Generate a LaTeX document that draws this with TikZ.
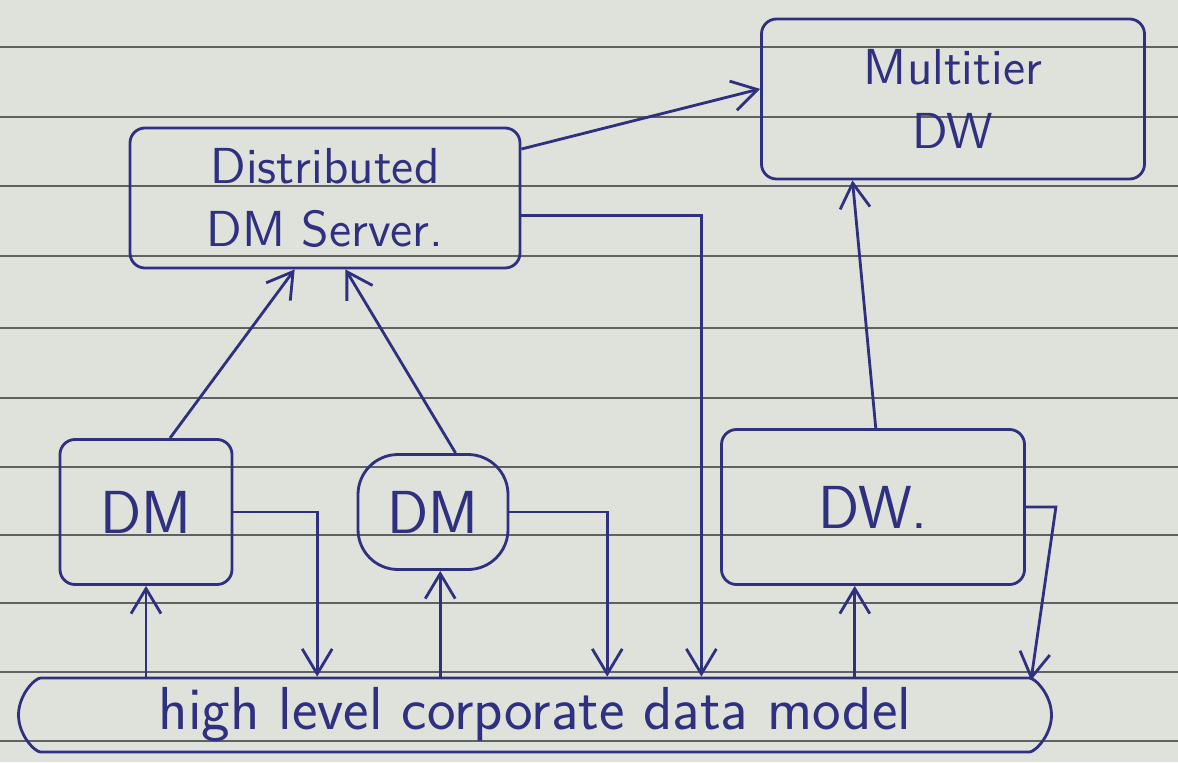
\documentclass[tikz,border=0pt]{standalone}
\usepackage{tikz}
\usetikzlibrary{arrows.meta}
\usetikzlibrary{shapes.misc}
\usepackage{xcolor}
\definecolor{ink}{RGB}{48,48,128}
\definecolor{paper}{RGB}{222,226,219}
\definecolor{ruling}{RGB}{95,98,95}

\begin{document}
\begin{tikzpicture}[box/.style={shape=rectangle,
        rounded corners=1.5mm,
        draw=ink,
        thick,
        text=ink,
        inner sep=1pt,
        align=center,
        font=\sffamily\Large},
      flow/.style={-{Straight Barb[length=2.5mm,width=3mm]},thick,draw=ink}]
      %\draw[help lines] (0,0) grid (12,-8); % Only for Development
      \useasboundingbox (0,0) rectangle (11.78,-7.62);
      \fill[paper] (0,0) rectangle (11.78,-7.62);

      % ruled paper
      \foreach \y in {0.47,1.17,1.86,2.56,3.28,3.98,4.67,5.35,6.03,6.72,7.41}
        \draw[ruling,line width=0.5pt] (0,-\y) -- (11.78,-\y);

      \node[box,
        minimum height = 1.6cm,
        minimum width = 3.83cm] (mdw) at (9.53,-0.99) {Multitier\\DW};
      \node[box,
        minimum height = 1.4cm,
        minimum width = 3.9cm] (dms) at (3.25,-1.98) {Distributed\\DM Server.};
      \node[box,
        minimum height = 1.45cm,
        minimum width = 1.72cm,
        font=\sffamily\LARGE] (dm1) at (1.46,-5.12) {DM};
      \node[box,
        rounded corners=4mm,
        minimum height = 1.15cm,
        minimum width = 1.5cm,
        font=\sffamily\LARGE] (dm2) at (4.33,-5.12) {DM};
      \node[box,
        minimum height = 1.55cm,
        minimum width = 3.03cm,
        font=\sffamily\LARGE] (dw) at (8.73,-5.07) {DW.};
      \node[box,
        shape=rounded rectangle,
        minimum height = 0.74cm,
        minimum width = 10.4cm,
        font=\sffamily\LARGE] (cdm) at (5.35,-7.15) {high level corporate data model};

      \draw[flow] (dms.14) -- (mdw.177);
      \draw[flow] (dms.-5) -| (cdm.13);
      \draw[flow] (dm1.72) -- (dms.247);
      \draw[flow] (dm2.69) -- (dms.286);
      \draw[flow] (dw.88) -- (mdw.219);

      \draw[flow] (cdm.north -| dm1.south) -- (dm1.south);
      \draw[flow] (dm1.east) -| (cdm.170);
      \draw[flow] (cdm.north -| dm2.-83) -- (dm2.-83);
      \draw[flow] (dm2.east) -| (cdm.28);
      \draw[flow] (cdm.north -| dw.257) -- (dw.257);
      \draw[flow] (dw.east) -- ++(0.3,0) -- (cdm.4);

    \end{tikzpicture}
\end{document}
